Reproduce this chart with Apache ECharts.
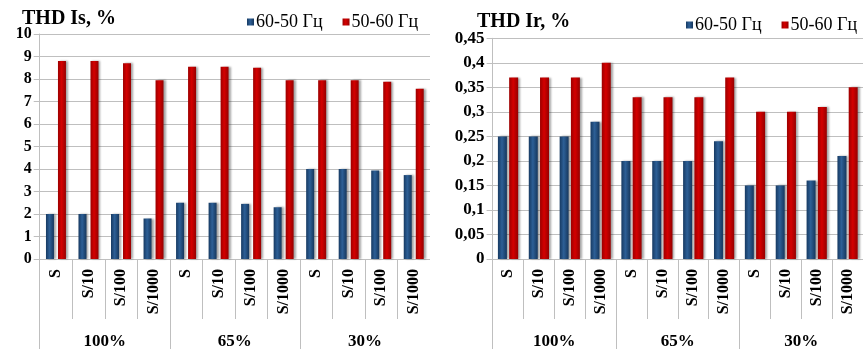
<!DOCTYPE html>
<html><head><meta charset="utf-8">
<script src="https://cdn.jsdelivr.net/npm/echarts@6/dist/echarts.min.js"></script>
<style>
html,body{margin:0;padding:0;background:#fff;width:863px;height:350px;overflow:hidden;}
#c1{position:absolute;left:0;top:0;width:430px;height:350px;}
#c2{position:absolute;left:430px;top:0;width:433px;height:350px;}
</style></head>
<body>
<div id="c1"></div><div id="c2"></div>
<script>
const innerCats = ['S','S/10','S/100','S/1000','S','S/10','S/100','S/1000','S','S/10','S/100','S/1000'];
const groupCats = ['100%','65%','30%'];
const seriesNames = ['60-50 Гц','50-60 Гц'];
const isBlue = [2.0, 2.0, 2.0, 1.8, 2.5, 2.5, 2.45, 2.3, 4.0, 4.0, 3.93, 3.73];
const isRed  = [8.8, 8.8, 8.7, 7.95, 8.55, 8.55, 8.5, 7.95, 7.95, 7.95, 7.88, 7.57];
const irBlue = [0.25, 0.25, 0.25, 0.28, 0.2, 0.2, 0.2, 0.24, 0.15, 0.15, 0.16, 0.21];
const irRed  = [0.37, 0.37, 0.37, 0.40, 0.33, 0.33, 0.33, 0.37, 0.30, 0.30, 0.31, 0.35];

const FONT = '"Liberation Serif","Times New Roman",serif';
const GRID = '#bfbfbf';
const blueGrad = {type:'linear',x:0,y:0,x2:1,y2:0,colorStops:[{offset:0,color:'#173a62'},{offset:0.45,color:'#2d5f96'},{offset:1,color:'#16375d'}]};
const redGrad  = {type:'linear',x:0,y:0,x2:1,y2:0,colorStops:[{offset:0,color:'#9c0000'},{offset:0.45,color:'#d40000'},{offset:1,color:'#960000'}]};

function build(o){
  return {
    animation:false,
    color:['#1f4e79','#c00000'],
    title:{text:o.title,left:o.titleLeft,top:o.titleTop,textStyle:{fontFamily:FONT,fontWeight:'bold',fontSize:20,color:'#000'}},
    legend:{left:o.legendLeft,top:o.legendTop,itemWidth:7,itemHeight:7,itemGap:20,icon:'rect',
      textStyle:{fontFamily:FONT,fontSize:18,color:'#000',padding:[0,0,0,-3]},data:seriesNames},
    grid:{left:o.gridLeft,top:o.gridTop,width:o.gridWidth,height:o.gridHeight,containLabel:false},
    yAxis:{type:'value',min:0,max:o.max,interval:o.interval,
      axisLine:{show:true,lineStyle:{color:GRID,width:1}},
      axisTick:{show:true,length:6,lineStyle:{color:GRID}},
      splitLine:{show:true,lineStyle:{color:GRID,width:1}},
      axisLabel:{margin:8,fontFamily:FONT,fontWeight:'bold',fontSize:o.yFont,color:'#000',formatter:o.fmt}},
    xAxis:[
      {type:'category',data:innerCats,position:'bottom',
        axisLine:{show:true,lineStyle:{color:GRID}},
        axisTick:{show:true,interval:0,length:60,lineStyle:{color:GRID}},
        axisLabel:{interval:0,rotate:90,margin:10,fontFamily:FONT,fontWeight:'bold',fontSize:16,color:'#000'}},
      {type:'category',data:groupCats,position:'bottom',offset:0,
        axisLine:{show:false},
        axisTick:{show:true,interval:0,length:90,lineStyle:{color:GRID}},
        axisLabel:{interval:0,margin:74,fontFamily:FONT,fontWeight:'bold',fontSize:17,color:'#000'}}
    ],
    series:[
      {name:seriesNames[0],type:'bar',xAxisIndex:0,data:o.blue,barWidth:o.barWidth,barGap:o.barGap,
        itemStyle:{color:blueGrad,shadowColor:'rgba(0,0,0,0.35)',shadowBlur:2,shadowOffsetX:2,shadowOffsetY:0}},
      {name:seriesNames[1],type:'bar',xAxisIndex:0,data:o.red,barWidth:o.barWidth,barGap:o.barGap,
        itemStyle:{color:redGrad,shadowColor:'rgba(0,0,0,0.35)',shadowBlur:2,shadowOffsetX:2,shadowOffsetY:0}}
    ]
  };
}

const c1 = echarts.init(document.getElementById('c1'));
c1.setOption(build({title:'THD Is, %',titleLeft:17,titleTop:4,legendLeft:242,legendTop:8,
  gridLeft:39.7,gridTop:34,gridWidth:396,gridHeight:227.7,max:10,interval:1,yFont:16,
  fmt:v=>String(v),blue:isBlue,red:isRed,barWidth:8,barGap:'50%'}));

const c2 = echarts.init(document.getElementById('c2'));
c2.setOption(build({title:'THD Ir, %',titleLeft:42,titleTop:7,legendLeft:251,legendTop:11,
  gridLeft:62.6,gridTop:38.3,gridWidth:376.8,gridHeight:223.4,max:0.45,interval:0.05,yFont:17,
  fmt:v=>String(Math.round(v*100)/100).replace('.',','),blue:irBlue,red:irRed,barWidth:9,barGap:'25%'}));
</script>
</body></html>
